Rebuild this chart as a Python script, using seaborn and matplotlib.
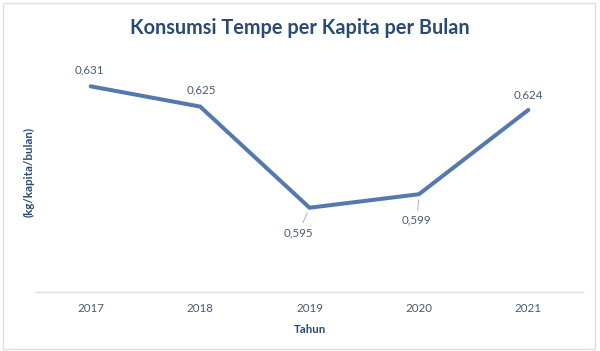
import numpy as np
import pandas as pd
import matplotlib
matplotlib.use('Agg')
import matplotlib.pyplot as plt
from matplotlib.patches import Rectangle
import seaborn as sns

# --- DATA ---
years = ['2017', '2018', '2019', '2020', '2021']
konsumsi = [0.631, 0.625, 0.595, 0.599, 0.624]
value_labels = ['0,631', '0,625', '0,595', '0,599', '0,624']
# label offsets in pixels (dx, dy) and whether a leader line is drawn
label_offsets = [(-1, 16), (1, 17), (-11, -25), (-2, -26), (0, 15)]
leader = [False, False, True, True, False]

LINE_COLOR = '#5479AE'
TITLE_COLOR = '#2B4A73'
TEXT_COLOR = '#4A5A70'
AXIS_COLOR = '#D9DEE4'

sns.set_theme(style='white')
plt.rcParams['font.family'] = ['Lato', 'DejaVu Sans']

df = pd.DataFrame({'idx': np.arange(len(years)), 'val': konsumsi})

fig = plt.figure(figsize=(6, 3.51), dpi=100)
ax = fig.add_axes([0.06, 0.168, 0.9117, 0.6725])

sns.lineplot(data=df, x='idx', y='val', ax=ax, color=LINE_COLOR, linewidth=2.9,
             solid_joinstyle='miter')

ax.set_xlim(-0.5, len(years) - 0.5)
ax.set_ylim(0.57, 0.64)
ax.set_yticks([])
ax.set_xticks(np.arange(len(years)))
ax.set_xticklabels(years, fontsize=8.3, color=TEXT_COLOR)
ax.set_xticks(np.arange(len(years) + 1) - 0.5, minor=True)
ax.tick_params(axis='x', which='major', length=0, pad=8)
ax.tick_params(axis='x', which='minor', length=4, width=0.8, color=AXIS_COLOR, direction='out')

for side in ['top', 'right', 'left']:
    ax.spines[side].set_visible(False)
ax.spines['bottom'].set_color(AXIS_COLOR)
ax.spines['bottom'].set_linewidth(1)

ax.set_xlabel('Tahun', fontsize=8.3, fontweight='bold', color=TITLE_COLOR, labelpad=7)
ax.set_ylabel('(kg/kapita/bulan)', fontsize=8.3, fontweight='bold', color=TITLE_COLOR, labelpad=8)
ax.yaxis.set_label_coords(-0.002, 0.51)

for i, (lab, (dx, dy), ld) in enumerate(zip(value_labels, label_offsets, leader)):
    kw = {}
    if ld:
        kw['arrowprops'] = dict(arrowstyle='-', color='#A6B1BE', lw=0.7, shrinkA=1, shrinkB=4)
    ax.annotate(lab, xy=(i, konsumsi[i]), xytext=(dx, dy), textcoords='offset pixels',
                ha='center', va='center', fontsize=8.3, color=TEXT_COLOR, **kw)

fig.text(0.5, 0.92, 'Konsumsi Tempe per Kapita per Bulan', ha='center', va='center',
         fontsize=14.3, fontweight='bold', color=TITLE_COLOR)

fig.patches.append(Rectangle((3 / 600, 2 / 351), 592 / 600, 346 / 351, transform=fig.transFigure,
                             fill=False, edgecolor='#D6E0EA', linewidth=1))

fig.savefig('out.png', dpi=100, facecolor='white')
